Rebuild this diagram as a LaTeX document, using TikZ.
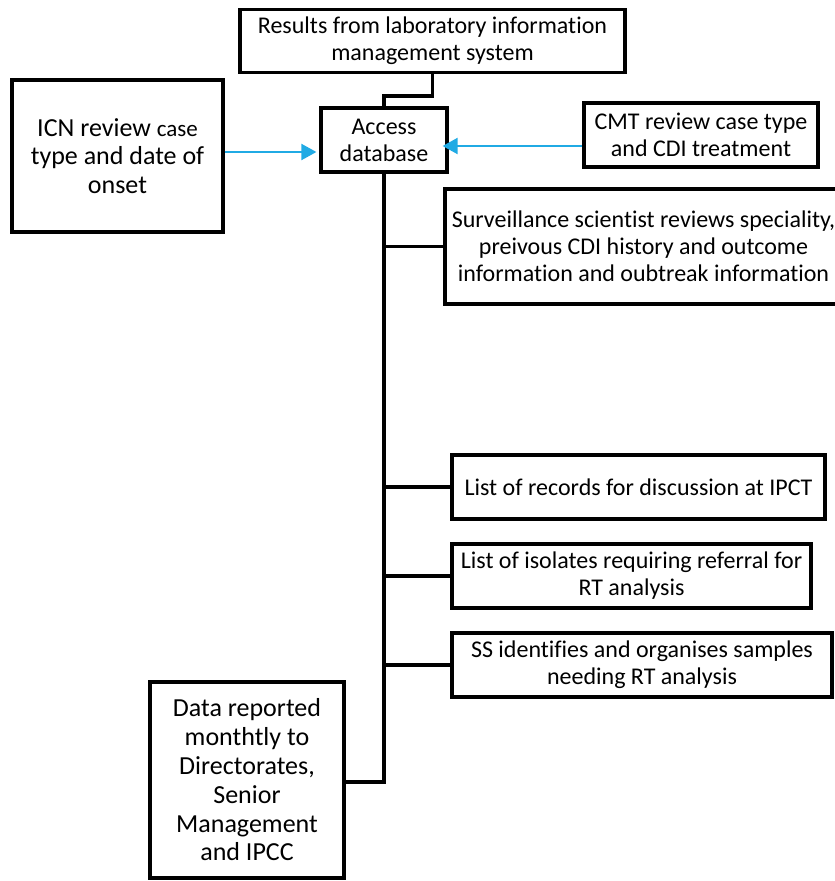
\documentclass[tikz,border=0pt]{standalone}
\usepackage{fontspec}
\setmainfont{Carlito}[Ligatures=NoCommon]
\usetikzlibrary{arrows.meta,calc}
\definecolor{arrblue}{RGB}{32,170,228}
\tikzset{
  box/.style={draw=black,line width=3.2pt,rectangle,inner sep=0pt,align=center,
    font=\fontsize{24}{27}\selectfont},
  bigbox/.style={box,font=\fontsize{26}{28.8}\selectfont},
  conn/.style={draw=black,line width=3.2pt},
  barrow/.style={draw=arrblue,line width=2pt,-{Triangle[length=15pt,width=16pt]}}
}
\begin{document}
\begin{tikzpicture}[x=1pt,y=-1pt]
\useasboundingbox (0,0) rectangle (835,881);
\clip (0,0) rectangle (835,881);
\node[box,minimum width=385pt,minimum height=63pt] (res) at (432.5,41)
  {Results from laboratory information\\management system};
\node[box,minimum width=126pt,minimum height=64pt] (acc) at (384,140)
  {Access\\database};
\node[bigbox,minimum width=211pt,minimum height=152pt] (icn) at (117.5,156)
  {ICN review {\fontsize{23}{28.8}\selectfont case}\\type and date of\\onset};
\node[box,minimum width=234pt,minimum height=64pt] (cmt) at (701,135)
  {CMT review case type\\and CDI treatment};
\node[box,minimum width=397pt,minimum height=115pt] (sur) at (643.5,246.5)
  {Surveillance scientist reviews speciality,\\preivous CDI history and outcome\\information and oubtreak information};
\node[box,minimum width=373pt,minimum height=64pt] (rec) at (638.5,487)
  {List of records for discussion at IPCT};
\node[box,minimum width=359pt,minimum height=64pt] (iso) at (631.5,576)
  {List of isolates requiring referral for\\RT analysis};
\node[box,minimum width=380pt,minimum height=64pt] (ss) at (642,665)
  {SS identifies and organises samples\\needing RT analysis};
\node[bigbox,minimum width=194pt,minimum height=196pt] (dat) at (247,780)
  {Data reported\\monthtly to\\Directorates,\\Senior\\Management\\and IPCC};
\coordinate (bend) at (432.5,96);
\coordinate (bot) at (384,782);
\draw[conn] (res.south) -- (bend) -| (acc.north);
\draw[conn] (acc.south) -- (bot) -- (bot -| dat.east);
\draw[conn] (acc.south |- sur.west) -- (sur.west);
\draw[conn] (acc.south |- rec.west) -- (rec.west);
\draw[conn] (acc.south |- iso.west) -- (iso.west);
\draw[conn] (acc.south |- ss.west) -- (ss.west);
\draw[barrow,shorten >=3pt] ([yshift=4pt]icn.east) -- ([yshift=4pt]icn.east -| acc.west);
\draw[barrow,shorten >=-6pt] ([yshift=-11pt]cmt.west) -- ([yshift=-11pt]cmt.west -| acc.east);
\end{tikzpicture}
\end{document}
